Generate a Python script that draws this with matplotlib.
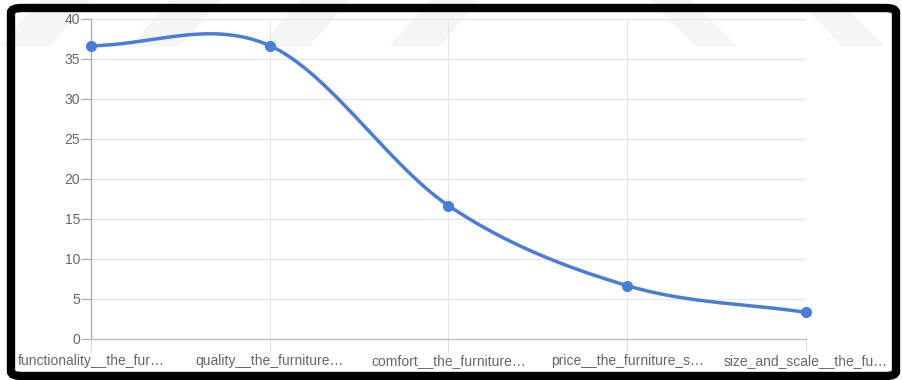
import numpy as np
import matplotlib
matplotlib.use('Agg')
import matplotlib.pyplot as plt
from matplotlib.patches import FancyBboxPatch, Polygon

plt.rcParams['font.family'] = ['Liberation Sans', 'DejaVu Sans']

# data
categories = ['functionality__the_fur…', 'quality__the_furniture…', 'comfort__the_furniture…',
              'price__the_furniture_s…', 'size_and_scale__the_fu…']
values = [36.67, 36.67, 16.67, 6.67, 3.33]
yticks = [0, 5, 10, 15, 20, 25, 30, 35, 40]

line_color = '#4a7dd6'
W, H = 903, 380

fig = plt.figure(figsize=(W / 100, H / 100), dpi=100)
fig.patch.set_facecolor('white')

# faint watermark bands at the top (figure pixel coords, y from top)
def px(x, y):
    return (x / W, 1 - y / H)

bands = []
for b in [0, 130, 260, 390]:
    bands.append([px(b, 46), px(b + 50, 46), px(b + 90, 0), px(b + 40, 0)])
for t in [650, 797]:
    bands.append([px(t, 0), px(t + 42, 0), px(t + 87, 46), px(t + 45, 46)])
for pts in bands:
    fig.patches.append(Polygon(pts, closed=True, transform=fig.transFigure,
                               facecolor='#f5f5f5', edgecolor='none', zorder=-1))

# black frame
frame = FancyBboxPatch(px(11, 376), (896 - 11) / W, (376 - 8) / H,
                       boxstyle='round,pad=0,rounding_size=0.012',
                       transform=fig.transFigure, facecolor='none',
                       edgecolor='black', linewidth=6, zorder=5)
fig.patches.append(frame)

ax = fig.add_axes([91 / W, 1 - 339 / H, (806 - 91) / W, (339 - 19) / H])
ax.set_facecolor('none')
ax.set_zorder(1)

# smooth curve (cubic bezier, catmull-rom style tangents)
x = np.arange(len(values), dtype=float)
y = np.array(values, dtype=float)
n = len(y)
m = np.zeros(n)
m[0] = y[1] - y[0]
m[-1] = y[-1] - y[-2]
for i in range(1, n - 1):
    m[i] = (y[i + 1] - y[i - 1]) / 2
t = np.linspace(0, 1, 60)
cx, cy = [], []
for i in range(n - 1):
    p0 = np.array([x[i], y[i]])
    p3 = np.array([x[i + 1], y[i + 1]])
    p1 = np.array([x[i] + 1 / 3, y[i] + m[i] / 3])
    p2 = np.array([x[i + 1] - 1 / 3, y[i + 1] - m[i + 1] / 3])
    b = ((1 - t) ** 3)[:, None] * p0 + (3 * (1 - t) ** 2 * t)[:, None] * p1 \
        + (3 * (1 - t) * t ** 2)[:, None] * p2 + (t ** 3)[:, None] * p3
    cx.extend(b[:, 0])
    cy.extend(b[:, 1])

ax.plot(cx, cy, color=line_color, linewidth=2.5, clip_on=False, zorder=3,
        solid_capstyle='round')
ax.plot(x, y, 'o', color=line_color, markersize=7, clip_on=False, zorder=4)

ax.set_xlim(0, n - 1)
ax.set_ylim(0, 40)
ax.set_yticks(yticks)
ax.set_xticks(x)
ax.set_xticklabels(categories)

ax.grid(True, color='#e6e6e6', linewidth=0.8)
ax.set_axisbelow(True)
for s in ['top', 'right']:
    ax.spines[s].set_visible(False)
ax.spines['left'].set_color('#aaaaaa')
ax.spines['bottom'].set_color('#bbbbbb')
ax.spines['left'].set_linewidth(0.9)
ax.spines['bottom'].set_linewidth(0.9)

ax.tick_params(axis='y', length=7, width=0.8, color='#aaaaaa', pad=1,
               labelsize=10, labelcolor='#666666')
ax.tick_params(axis='x', length=9, width=0.8, color='#dddddd', pad=2,
               labelsize=10, labelcolor='#666666')

fig.savefig('out.png', dpi=100, facecolor='white')
